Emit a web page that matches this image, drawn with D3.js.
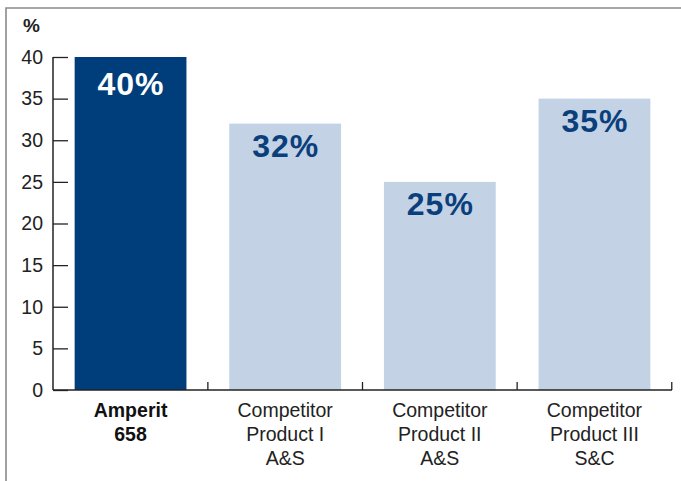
<!DOCTYPE html>
<html>
<head>
<meta charset="utf-8">
<script src="https://cdn.jsdelivr.net/npm/d3@7"></script>
<style>
  html, body { margin: 0; padding: 0; background: #fff; }
  svg { display: block; font-family: "Liberation Sans", Arial, sans-serif; }
</style>
</head>
<body>
<div id="chart"></div>
<script>
// chart data
const products = ['Amperit 658', 'Competitor I', 'Competitor II', 'Competitor III'];
const productLines = [
  ['Amperit', '658'],
  ['Competitor', 'Product I', 'A&S'],
  ['Competitor', 'Product II', 'A&S'],
  ['Competitor', 'Product III', 'S&C']
];
const shares = [40, 32, 25, 35];
const yTicks = [0, 5, 10, 15, 20, 25, 30, 35, 40];

const width = 681, height = 481;
const margin = { top: 57, right: 9, bottom: 91, left: 53 };

const svg = d3.select('#chart').append('svg')
  .attr('width', width)
  .attr('height', height);

// frame: top and left gray lines
svg.append('path')
  .attr('d', `M6,${height} L6,8 L${width},8`)
  .attr('fill', 'none')
  .attr('stroke', '#8a8a8a')
  .attr('stroke-width', 1.6);

const x = d3.scaleBand()
  .domain(products)
  .range([margin.left, width - margin.right])
  .paddingInner(0.277)
  .paddingOuter(0.14);

const y = d3.scaleLinear()
  .domain([0, 40])
  .range([height - margin.bottom, margin.top]);

// bars
svg.append('g').selectAll('rect')
  .data(shares)
  .enter()
  .append('rect')
  .attr('x', (d, i) => x(products[i]))
  .attr('y', d => y(d))
  .attr('width', x.bandwidth())
  .attr('height', d => y(0) - y(d))
  .attr('fill', (d, i) => i === 0 ? '#003e7b' : '#c3d2e5');

// value labels in bars
svg.append('g').selectAll('text')
  .data(shares)
  .enter()
  .append('text')
  .attr('x', (d, i) => x(products[i]) + x.bandwidth() / 2 + 0.5)
  .attr('y', (d, i) => y(d) + (i === 0 ? 38 : 33.5))
  .attr('text-anchor', 'middle')
  .attr('font-size', 32)
  .attr('letter-spacing', 1)
  .attr('font-weight', 'bold')
  .attr('fill', (d, i) => i === 0 ? '#ffffff' : '#0b3f7c')
  .text(d => `${d}%`);

// y axis, ticks pointing inward
const yAxis = svg.append('g')
  .attr('transform', `translate(${margin.left},0)`)
  .call(d3.axisRight(y).tickValues(yTicks).tickSize(15).tickFormat(''));
yAxis.select('.domain').remove();
yAxis.selectAll('line').attr('stroke', '#222').attr('stroke-width', 1.3);

svg.append('line')
  .attr('x1', margin.left).attr('x2', margin.left)
  .attr('y1', y(40)).attr('y2', y(0))
  .attr('stroke', '#222').attr('stroke-width', 1.5);

svg.append('g').selectAll('text')
  .data(yTicks)
  .enter()
  .append('text')
  .attr('x', 43)
  .attr('y', d => y(d))
  .attr('dy', '0.35em')
  .attr('text-anchor', 'end')
  .attr('font-size', 19.5)
  .attr('fill', '#222')
  .text(d => d);

svg.append('text')
  .attr('x', 23)
  .attr('y', 32)
  .attr('font-size', 19)
  .attr('font-weight', 'bold')
  .attr('fill', '#222')
  .text('%');

// x axis with ticks at band boundaries
const xBase = y(0);
svg.append('line')
  .attr('x1', margin.left).attr('x2', width - margin.right)
  .attr('y1', xBase).attr('y2', xBase)
  .attr('stroke', '#222').attr('stroke-width', 1.5);

const step = x.step();
const boundaries = products.map((p, i) => x(p) + x.bandwidth() + (step - x.bandwidth()) / 2);
svg.append('g').selectAll('line')
  .data(boundaries)
  .enter()
  .append('line')
  .attr('x1', d => d).attr('x2', d => d)
  .attr('y1', xBase - 8).attr('y2', xBase)
  .attr('stroke', '#222').attr('stroke-width', 1.3);

// category labels
const cat = svg.append('g').selectAll('text')
  .data(productLines)
  .enter()
  .append('text')
  .attr('text-anchor', 'middle')
  .attr('font-size', 19.5)
  .attr('font-weight', (d, i) => i === 0 ? 'bold' : 'normal')
  .attr('fill', (d, i) => i === 0 ? '#111' : '#222');

cat.selectAll('tspan')
  .data((d, i) => d.map(line => ({ line, i })))
  .enter()
  .append('tspan')
  .attr('x', d => x(products[d.i]) + x.bandwidth() / 2)
  .attr('y', (d, j) => 417 + j * 24)
  .text(d => d.line);
</script>
</body>
</html>
